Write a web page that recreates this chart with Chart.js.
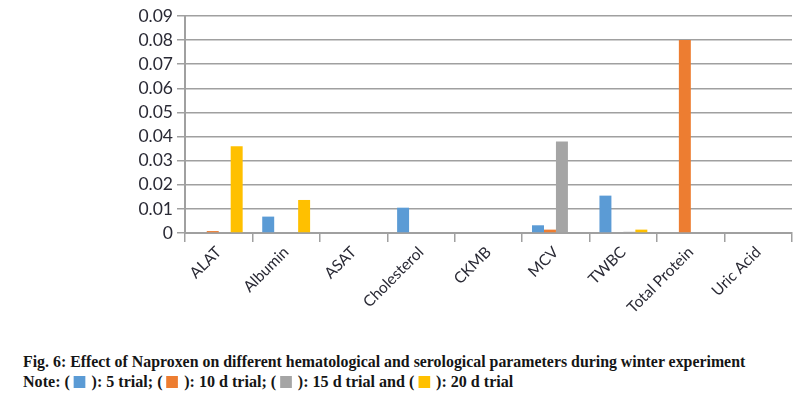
<!DOCTYPE html>
<html>
<head>
<meta charset="utf-8">
<script src="https://cdn.jsdelivr.net/npm/chart.js@4.4.0/dist/chart.umd.min.js"></script>
<style>
  html, body { margin: 0; padding: 0; background: #fff; }
  #wrap { position: relative; width: 807px; height: 340px; }
  .cap { position: absolute; left: 23px; font-family: "Liberation Serif", "Times New Roman", serif;
         font-weight: bold; font-size: 16.5px; color: #151515; white-space: nowrap; transform-origin: left top; }
  .sq { display: inline-block; width: 12px; height: 12px; vertical-align: -1px; margin: 0 2px 0 0; }
</style>
</head>
<body>
<div id="wrap"><canvas id="chart"></canvas></div>
<div class="cap" id="cap1" style="top:352px;">Fig. 6: Effect of Naproxen on different hematological and serological parameters during winter experiment</div>
<div class="cap" id="cap2" style="top:372px;">Note: ( <span class="sq" style="background:#5B9BD5"></span> ): 5 trial; ( <span class="sq" style="background:#ED7D31"></span> ): 10 d trial; ( <span class="sq" style="background:#A5A5A5"></span> ): 15 d trial and ( <span class="sq" style="background:#FFC000"></span> ): 20 d trial</div>
<script>
const categories = ["ALAT", "Albumin", "ASAT", "Cholesterol", "CKMB", "MCV", "TWBC", "Total Protein", "Uric Acid"];
const trial5  = [0, 0.0068, 0, 0.0105, 0, 0.0032, 0.0155, 0, 0];
const trial10 = [0.0008, 0, 0, 0, 0, 0.0014, 0, 0.08, 0];
const trial15 = [0, 0, 0, 0, 0, 0.038, 0.0005, 0, 0];
const trial20 = [0.036, 0.0137, 0, 0, 0, 0, 0.0014, 0, 0];
const seriesNames = ["5 trial", "10 d trial", "15 d trial", "20 d trial"];
const seriesColors = ["#5B9BD5", "#ED7D31", "#A5A5A5", "#FFC000"];

const gridColor = "#a0a0a0";
const textColor = "#2a2a35";

const datasets = [trial5, trial10, trial15, trial20].map((d, i) => ({
    label: seriesNames[i],
    data: d,
    backgroundColor: seriesColors[i],
    borderWidth: 0,
    categoryPercentage: 0.71,
    barPercentage: 1.0
}));

new Chart(document.getElementById("chart"), {
    type: "bar",
    data: { labels: categories, datasets: datasets },
    options: {
        responsive: true,
        maintainAspectRatio: false,
        animation: false,
        layout: { padding: { top: 16, right: 15, left: 0, bottom: 0 } },
        plugins: { legend: { display: false }, tooltip: { enabled: false } },
        scales: {
            x: {
                grid: { display: true, drawOnChartArea: false, drawTicks: true, tickLength: 9, color: gridColor, lineWidth: 1.5, offset: true },
                border: { display: true, color: gridColor, width: 2 },
                ticks: {
                    color: textColor,
                    font: { family: "Lato", size: 15.5 },
                    minRotation: 45, maxRotation: 45, autoSkip: false, padding: 1
                },
                afterFit: function (scale) { scale.height = 107; }
            },
            y: {
                min: 0, max: 0.09,
                grid: { color: gridColor, lineWidth: 1.5, tickLength: 8, drawTicks: true },
                border: { display: true, color: gridColor, width: 2 },
                ticks: {
                    stepSize: 0.01,
                    color: textColor,
                    font: { family: "Lato", size: 17.5 },
                    padding: 4,
                    callback: function (v) { return v === 0 ? "0" : v.toFixed(2); }
                },
                afterFit: function (scale) { scale.width = 185; }
            }
        }
    }
});

// fit the caption lines to the widths they have in the figure
const cap1 = document.getElementById("cap1");
const cap2 = document.getElementById("cap2");
cap1.style.transform = `scaleX(${722 / cap1.offsetWidth})`;
cap2.style.transform = `scaleX(${490 / cap2.offsetWidth})`;
</script>
</body>
</html>
